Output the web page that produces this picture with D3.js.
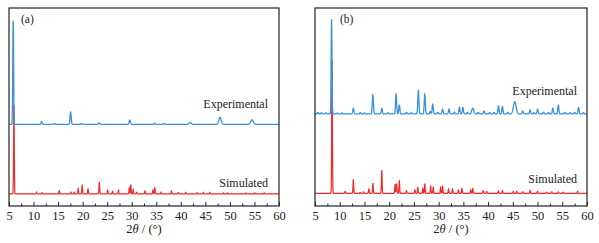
<!DOCTYPE html>
<html>
<head>
<meta charset="utf-8">
<script src="https://cdn.jsdelivr.net/npm/d3@7"></script>
<style>
  body { margin: 0; background: #fff; }
</style>
</head>
<body>
<svg id="chart" width="599" height="243"></svg>
<script>
// x axis ticks (2theta, degrees)
const majorTicks = [5, 10, 15, 20, 25, 30, 35, 40, 45, 50, 55, 60];
const minorTicks = [7.5, 12.5, 17.5, 22.5, 27.5, 32.5, 37.5, 42.5, 47.5, 52.5, 57.5];

// peaks: [2theta, height, half width]
const simPeaksA = [
  [6.0, 45], [10.6, 1.0], [11.7, 0.6], [15.25, 1.7], [17.6, 1.0], [18.3, 1.0],
  [19.1, 2.7], [19.9, 4.2], [21.1, 2.5], [23.4, 6.1], [25.1, 1.9], [26.1, 1.3],
  [27.3, 1.9], [29.5, 2.9], [29.8, 4.7], [30.3, 2.2], [31.0, 0.8], [32.7, 1.5],
  [34.3, 2.0], [34.7, 3.0], [36.0, 1.0], [38.1, 1.5], [39.5, 0.7], [41.0, 0.8],
  [43.3, 0.6], [44.6, 0.8], [45.9, 0.8], [48.7, 0.5], [49.5, 0.5], [53.3, 0.5],
  [55.0, 0.5], [57.0, 0.5]
];
const expPeaksA = [
  [5.85, 52.4, 0.1], [11.65, 1.5], [14.3, 0.4], [17.55, 6.3, 0.14], [19.7, 0.4],
  [23.4, 0.8, 0.18], [29.6, 2.2, 0.16], [34.6, 0.6], [36.5, 0.6], [41.9, 0.9, 0.3],
  [48.0, 3.6, 0.28], [54.5, 2.3, 0.32]
];
const simPeaksB = [
  [8.45, 67.3], [11.1, 1.0], [12.75, 6.7], [14.1, 0.5], [14.8, 0.7], [15.9, 2.2],
  [16.7, 5.2], [18.5, 11.6], [21.2, 4.7], [21.5, 4.9], [22.05, 6.2], [23.5, 1.3],
  [25.2, 1.7], [25.8, 2.9], [26.8, 2.4], [27.2, 4.9], [28.4, 3.5], [28.9, 3.0],
  [30.4, 3.0], [30.8, 3.4], [32.0, 2.2], [32.8, 2.2], [34.0, 1.7], [34.7, 2.4],
  [36.5, 1.7], [36.9, 2.4], [39.0, 1.3], [39.7, 1.0], [42.1, 1.2], [42.9, 1.5],
  [45.1, 1.0], [45.8, 1.0], [47.0, 0.8], [48.5, 1.5], [50.0, 1.0], [51.8, 0.6],
  [52.9, 0.8], [54.2, 0.8], [55.2, 0.6], [58.1, 1.0]
];
const expPeaksB = [
  [5.6, 0.8], [6.3, 0.6], [7.2, 0.5], [8.35, 47.8, 0.1], [9.5, 0.4], [10.5, 0.5],
  [12.75, 2.9], [14.2, 0.6], [15.0, 0.5], [16.7, 9.6], [18.5, 2.9], [19.8, 0.6],
  [21.4, 9.9], [22.05, 4.5], [23.5, 0.8], [24.5, 0.6], [25.9, 11.6], [27.2, 9.9],
  [28.3, 1.2], [28.8, 4.9], [29.8, 0.8], [30.8, 2.4], [32.1, 2.5], [33.2, 1.0],
  [34.2, 3.4], [34.9, 3.2], [35.8, 0.8], [36.9, 2.9, 0.24], [38.0, 0.8], [39.2, 1.5],
  [40.3, 0.7], [41.2, 0.8], [42.1, 4.0], [42.9, 3.7], [44.0, 0.8], [45.4, 6.2, 0.32],
  [47.0, 1.5], [48.5, 2.0], [49.3, 0.7], [50.0, 2.4], [51.2, 0.8], [52.2, 0.7],
  [53.1, 2.9], [54.2, 4.5], [55.5, 0.8], [56.6, 0.7], [57.5, 0.8], [58.3, 3.2],
  [59.3, 0.7]
];

// baseline offsets of the stacked patterns
const simOffsetA = 6.1, expOffsetA = 41.2;
const simOffsetB = 6.4, expOffsetB = 46.5;

const COLORS = { sim: '#ee2a2a', exp: '#3a92d8' };
const FONT = '"Liberation Serif", "Times New Roman", "DejaVu Serif", serif';

const svg = d3.select('#chart');

// build a pattern line from its peak list
function pattern(peaks, offset, defaultHw) {
  const xs = d3.range(5, 60.001, 0.02).concat(peaks.map(p => p[0])).sort((a, b) => a - b);
  return xs.map(x => {
    let y = offset;
    peaks.forEach(([pos, h, hw]) => {
      const w = hw || defaultHw;
      const d = (x - pos) / w;
      if (Math.abs(d) < 6) y += h * Math.exp(-Math.LN2 * d * d);
    });
    return [x, y];
  });
}

function drawPanel(cfg) {
  const g = svg.append('g');
  const x = d3.scaleLinear().domain([5, 60]).range([cfg.left, cfg.right]);
  const y = d3.scaleLinear().domain([0, 100]).range([206, 8]);

  const line = d3.line().x(d => x(d[0])).y(d => y(d[1]));

  g.append('path')
    .attr('d', line(pattern(cfg.sim, cfg.simOffset, 0.08)))
    .attr('fill', 'none')
    .attr('stroke', COLORS.sim)
    .attr('stroke-width', 1.2);

  g.append('path')
    .attr('d', line(pattern(cfg.exp, cfg.expOffset, 0.13)))
    .attr('fill', 'none')
    .attr('stroke', COLORS.exp)
    .attr('stroke-width', 1.3);

  // frame
  g.append('rect')
    .attr('x', cfg.left).attr('y', y(100))
    .attr('width', cfg.right - cfg.left).attr('height', y(0) - y(100))
    .attr('fill', 'none')
    .attr('stroke', '#222')
    .attr('stroke-width', 1.2);

  // inward ticks
  const major = g.append('g')
    .attr('transform', `translate(0,${y(0)})`)
    .call(d3.axisBottom(x).tickValues(majorTicks).tickSize(-4).tickPadding(5).tickFormat(d3.format('d')))
    .attr('font-family', FONT);
  major.select('.domain').remove();
  major.selectAll('text').attr('font-size', '12.5px').attr('font-family', FONT).attr('fill', '#222');
  major.selectAll('line').attr('stroke', '#222');

  const minor = g.append('g')
    .attr('transform', `translate(0,${y(0)})`)
    .call(d3.axisBottom(x).tickValues(minorTicks).tickSize(-2.5).tickFormat(''));
  minor.select('.domain').remove();
  minor.selectAll('line').attr('stroke', '#222');

  // axis title
  const title = g.append('text')
    .attr('x', (cfg.left + cfg.right) / 2)
    .attr('y', 233)
    .attr('text-anchor', 'middle')
    .attr('font-family', FONT)
    .attr('font-size', '12.5px')
    .attr('fill', '#222');
  title.append('tspan').text('2');
  title.append('tspan').attr('font-style', 'italic').text('θ');
  title.append('tspan').text(' / (°)');

  // panel label and series labels
  g.append('text')
    .attr('x', cfg.left + cfg.tagDx).attr('y', 23)
    .attr('font-family', FONT)
    .attr('font-size', '11.5px')
    .attr('fill', '#222')
    .text(cfg.tag);

  g.append('text')
    .attr('x', cfg.labelRight).attr('y', cfg.expLabelY)
    .attr('text-anchor', 'end')
    .attr('font-family', FONT)
    .attr('font-size', '12px')
    .attr('fill', '#222')
    .text('Experimental');

  g.append('text')
    .attr('x', cfg.labelRight).attr('y', cfg.simLabelY)
    .attr('text-anchor', 'end')
    .attr('font-family', FONT)
    .attr('font-size', '12px')
    .attr('fill', '#222')
    .text('Simulated');
}

drawPanel({
  left: 9, right: 279, tag: '(a)', tagDx: 12,
  sim: simPeaksA, exp: expPeaksA, simOffset: simOffsetA, expOffset: expOffsetA,
  labelRight: 268, expLabelY: 108, simLabelY: 187
});

drawPanel({
  left: 315, right: 587, tag: '(b)', tagDx: 25,
  sim: simPeaksB, exp: expPeaksB, simOffset: simOffsetB, expOffset: expOffsetB,
  labelRight: 577, expLabelY: 95, simLabelY: 183
});
</script>
</body>
</html>
